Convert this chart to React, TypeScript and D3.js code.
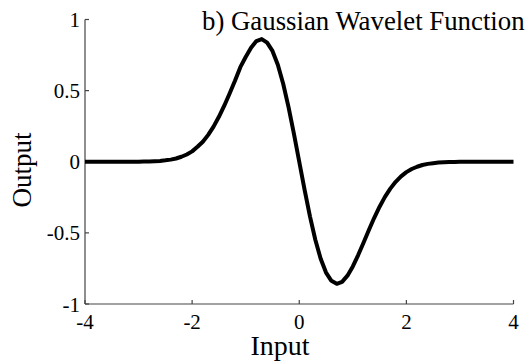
import React from "react";
import * as d3 from "d3";

const inputs: number[] = [
  -4.0, -3.9, -3.8, -3.7, -3.6, -3.5, -3.4, -3.3, -3.2, -3.1, -3.0, -2.9, -2.8, -2.7, -2.6, -2.5, -2.4, -2.3, -2.2, -2.1,
  -2.0, -1.9, -1.8, -1.7, -1.6, -1.5, -1.4, -1.3, -1.2, -1.1, -1.0, -0.9, -0.8, -0.7, -0.6, -0.5, -0.4, -0.3, -0.2, -0.1,
  0.0, 0.1, 0.2, 0.3, 0.4, 0.5, 0.6, 0.7, 0.8, 0.9, 1.0, 1.1, 1.2, 1.3, 1.4, 1.5, 1.6, 1.7, 1.8, 1.9,
  2.0, 2.1, 2.2, 2.3, 2.4, 2.5, 2.6, 2.7, 2.8, 2.9, 3.0, 3.1, 3.2, 3.3, 3.4, 3.5, 3.6, 3.7, 3.8, 3.9, 4.0,
];
const outputs: number[] = [
  0, 0, 0, 0, 0, 0, 0, 0, 0, 0, 0.0, 0.001, 0.002, 0.004, 0.006, 0.01, 0.015, 0.023, 0.035, 0.051,
  0.073, 0.105, 0.141, 0.189, 0.247, 0.316, 0.394, 0.48, 0.569, 0.665, 0.736, 0.801, 0.848, 0.862, 0.837, 0.779, 0.682, 0.548, 0.384, 0.198,
  0, -0.198, -0.384, -0.548, -0.682, -0.779, -0.837, -0.858, -0.844, -0.801, -0.736, -0.656, -0.569, -0.48, -0.394, -0.316, -0.247, -0.189, -0.141, -0.103,
  -0.073, -0.051, -0.035, -0.023, -0.015, -0.01, -0.006, -0.004, -0.002, -0.001, 0, 0, 0, 0, 0, 0, 0, 0, 0, 0, 0,
];
const xTicks: number[] = [-4, -2, 0, 2, 4];
const yTicks: number[] = [-1, -0.5, 0, 0.5, 1];
const xTickLabels: string[] = ["-4", "-2", "0", "2", "4"];
const yTickLabels: string[] = ["-1", "-0.5", "0", "0.5", "1"];
const title = "b) Gaussian Wavelet Function";
const xLabel = "Input";
const yLabel = "Output";

export default function App() {
  const W = 528;
  const H = 361;
  const x = d3.scaleLinear().domain([-4, 4]).range([85, 513.5]);
  const y = d3.scaleLinear().domain([-1, 1]).range([304, 19.5]);
  const pts: [number, number][] = inputs.map((v, i) => [v, outputs[i]]);
  const line = d3
    .line<[number, number]>()
    .x((d) => x(d[0]))
    .y((d) => y(d[1]));
  const font = "'Liberation Serif', 'Times New Roman', serif";
  const axisColor = "#444";
  const x0 = x(-4);
  const x1 = x(4);
  const y0 = y(-1);
  const y1 = y(1);
  return (
    <svg
      width={W}
      height={H}
      style={{ position: "absolute", left: 0, top: 0, background: "#fff" }}
      fontFamily={font}
    >
      <rect x={0} y={0} width={W} height={H} fill="#fff" />
      <line x1={x0} y1={y0} x2={x1} y2={y0} stroke={axisColor} strokeWidth={1.2} />
      <line x1={x0} y1={y0} x2={x0} y2={y1} stroke={axisColor} strokeWidth={1.2} />
      {xTicks.map((t, i) => (
        <g key={"xt" + i}>
          <line x1={x(t)} x2={x(t)} y1={y0} y2={y0 - 4} stroke={axisColor} strokeWidth={1.2} />
          <text x={x(t)} y={329} textAnchor="middle" fontSize={21} fill="#000">
            {xTickLabels[i]}
          </text>
        </g>
      ))}
      {yTicks.map((t, i) => (
        <g key={"yt" + i}>
          <line x1={x0} x2={x0 + 4} y1={y(t)} y2={y(t)} stroke={axisColor} strokeWidth={1.2} />
          <text x={80} y={y(t) + 7.5} textAnchor="end" fontSize={21} fill="#000">
            {yTickLabels[i]}
          </text>
        </g>
      ))}
      <path d={line(pts) || ""} fill="none" stroke="#000" strokeWidth={4} strokeLinejoin="round" />
      <text x={202} y={30} fontSize={26.8} fill="#000">
        {title}
      </text>
      <text x={280} y={354.5} textAnchor="middle" fontSize={28} fill="#000">
        {xLabel}
      </text>
      <text
        transform={`translate(31,170) rotate(-90)`}
        textAnchor="middle"
        fontSize={27}
        fill="#000"
      >
        {yLabel}
      </text>
    </svg>
  );
}
